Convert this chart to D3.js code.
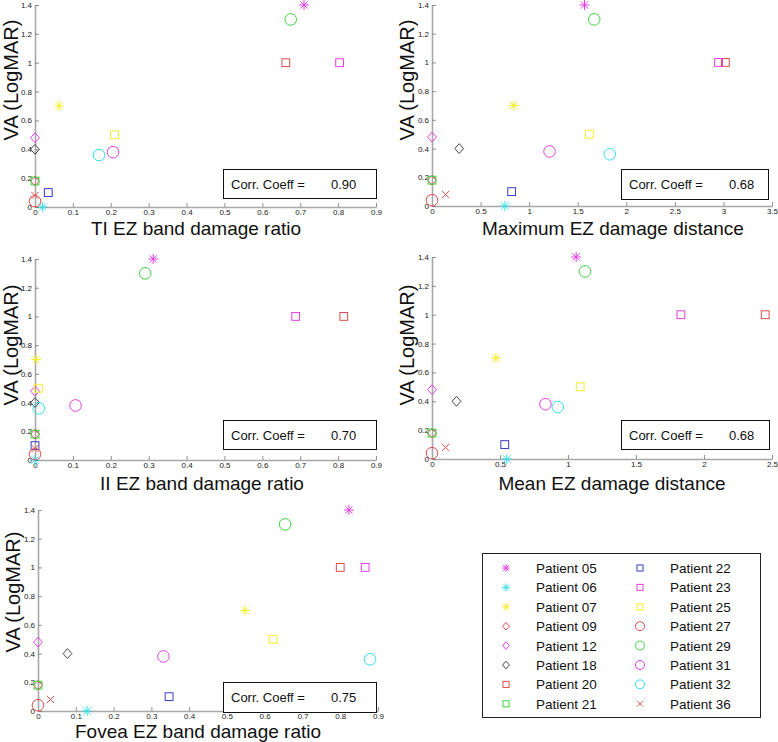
<!DOCTYPE html>
<html>
<head>
<meta charset="utf-8">
<script src="https://cdn.jsdelivr.net/npm/d3@7/dist/d3.min.js"></script>
<style>
  html, body { margin: 0; padding: 0; background: #fff; }
  svg { display: block; font-family: "Liberation Sans", Arial, sans-serif; }
</style>
</head>
<body>
<svg id="chart" width="778" height="742"></svg>
<script>
// ---------------- DATA ----------------
const patients = ["Patient 05","Patient 06","Patient 07","Patient 09","Patient 12","Patient 18","Patient 20","Patient 21",
                  "Patient 22","Patient 23","Patient 25","Patient 27","Patient 29","Patient 31","Patient 32","Patient 36"];
const markerTypes = ["asterisk","asterisk","asterisk","diamond","diamond","diamond","square","square",
                     "square","square","square","circle","circle","circle","circle","x"];
const markerColors = ["#e63ee6","#35e0ee","#f2ee2a","#e04a4a","#e63ee6","#444444","#e04a4a","#3fd23f",
                      "#3a3ac8","#e63ee6","#f2ee2a","#e04a4a","#3fd23f","#e63ee6","#35e0ee","#e85050"];
const vaLogMAR = [1.4, 0.0, 0.7, 0.18, 0.48, 0.4, 1.0, 0.18, 0.1, 1.0, 0.5, 0.04, 1.3, 0.38, 0.36, 0.08];

const tiRatio    = [0.71, 0.02, 0.064, 0, 0, 0, 0.662, 0, 0.035, 0.804, 0.21, 0, 0.675, 0.206, 0.169, 0];
const maxDist    = [1.57, 0.75, 0.84, 0, 0, 0.28, 3.02, 0, 0.82, 2.95, 1.62, 0, 1.67, 1.21, 1.83, 0.14];
const iiRatio    = [0.312, 0, 0.003, 0, 0, 0, 0.815, 0, 0, 0.688, 0.009, 0, 0.291, 0.107, 0.01, 0];
const meanDist   = [1.06, 0.55, 0.47, 0, 0, 0.18, 2.45, 0, 0.535, 1.83, 1.09, 0, 1.125, 0.834, 0.925, 0.10];
const foveaRatio = [0.823, 0.13, 0.548, 0, 0, 0.078, 0.80, 0, 0.347, 0.866, 0.622, 0, 0.654, 0.332, 0.879, 0.033];

const xTitles = ["TI EZ band damage ratio","Maximum EZ damage distance","II EZ band damage ratio",
                 "Mean EZ damage distance","Fovea EZ band damage ratio"];
const corrValues = ["0.90","0.68","0.70","0.68","0.75"];
const yTitle = "VA (LogMAR)";
const corrLabel = "Corr. Coeff =";

const ratioTicks = [0,0.1,0.2,0.3,0.4,0.5,0.6,0.7,0.8,0.9];
const maxDistTicks = [0,0.5,1,1.5,2,2.5,3,3.5];
const meanDistTicks = [0,0.5,1,1.5,2,2.5];
const yTicks = [0,0.2,0.4,0.6,0.8,1,1.2,1.4];

// ---------------- LAYOUT ----------------
const panels = [
  { xs: tiRatio,    ticks: ratioTicks,    left: 35,  right: 376, top: 5,   bottom: 207,
    box: {x: 223, y: 169, w: 153, h: 29}, xlab: {x: 196, y: 235}, ylab: {x: 18,  y: 80} },
  { xs: maxDist,    ticks: maxDistTicks,  left: 432, right: 772, top: 5,   bottom: 206,
    box: {x: 621, y: 169, w: 147, h: 30}, xlab: {x: 613, y: 235}, ylab: {x: 414, y: 80} },
  { xs: iiRatio,    ticks: ratioTicks,    left: 35,  right: 376, top: 259, bottom: 460,
    box: {x: 223, y: 420, w: 153, h: 29}, xlab: {x: 202, y: 490}, ylab: {x: 18,  y: 345} },
  { xs: meanDist,   ticks: meanDistTicks, left: 432, right: 772, top: 257, bottom: 459,
    box: {x: 621, y: 420, w: 148, h: 29}, xlab: {x: 612, y: 490}, ylab: {x: 414, y: 345} },
  { xs: foveaRatio, ticks: ratioTicks,    left: 38,  right: 378, top: 510, bottom: 711,
    box: {x: 223, y: 682, w: 153, h: 30}, xlab: {x: 198, y: 738}, ylab: {x: 20,  y: 592} }
];

const svg = d3.select("#chart");
const fmt = d => String(+(+d).toFixed(2));

function drawMarker(g, type, cx, cy, color, s) {
  const sw = 1;
  if (type === "circle") {
    g.append("circle").attr("cx", cx).attr("cy", cy).attr("r", 5.8 * s)
      .attr("fill", "none").attr("stroke", color).attr("stroke-width", sw);
  } else if (type === "square") {
    const h = 3.9 * s;
    g.append("rect").attr("x", cx - h).attr("y", cy - h).attr("width", 2 * h).attr("height", 2 * h)
      .attr("fill", "none").attr("stroke", color).attr("stroke-width", sw);
  } else if (type === "diamond") {
    const h = 4.9 * s;
    g.append("path").attr("d", `M${cx},${cy - h}L${cx + h * 0.9},${cy}L${cx},${cy + h}L${cx - h * 0.9},${cy}Z`)
      .attr("fill", "none").attr("stroke", color).attr("stroke-width", sw);
  } else if (type === "asterisk") {
    const h = 5 * s, d = h * 0.72;
    g.append("path").attr("d",
      `M${cx - h},${cy}L${cx + h},${cy}M${cx},${cy - h}L${cx},${cy + h}` +
      `M${cx - d},${cy - d}L${cx + d},${cy + d}M${cx - d},${cy + d}L${cx + d},${cy - d}`)
      .attr("fill", "none").attr("stroke", color).attr("stroke-width", sw);
  } else if (type === "x") {
    const h = 3.6 * s;
    g.append("path").attr("d", `M${cx - h},${cy - h}L${cx + h},${cy + h}M${cx - h},${cy + h}L${cx + h},${cy - h}`)
      .attr("fill", "none").attr("stroke", color).attr("stroke-width", sw);
  }
}

panels.forEach((p, pi) => {
  const xMax = p.ticks[p.ticks.length - 1];
  const x = d3.scaleLinear().domain([0, xMax]).range([p.left, p.right]);
  const y = d3.scaleLinear().domain([0, 1.4]).range([p.bottom, p.top]);
  const g = svg.append("g");

  // axes
  const xAxis = d3.axisBottom(x).tickValues(p.ticks).tickFormat(fmt).tickSizeInner(-4).tickSizeOuter(0).tickPadding(2);
  const yAxis = d3.axisLeft(y).tickValues(yTicks).tickFormat(fmt).tickSizeInner(-4).tickSizeOuter(0).tickPadding(3);
  const gx = g.append("g").attr("transform", `translate(0,${p.bottom})`).call(xAxis);
  const gy = g.append("g").attr("transform", `translate(${p.left},0)`).call(yAxis);
  [gx, gy].forEach(a => {
    a.select(".domain").attr("stroke", "#a8a8a8").attr("stroke-width", 1.6);
    a.selectAll(".tick line").attr("stroke", "#777").attr("stroke-width", 0.8);
    a.selectAll(".tick text").attr("fill", "#222").style("font-size", "8px")
      .style("font-family", "'Liberation Sans', Arial, sans-serif");
  });

  // points
  const pts = g.append("g");
  p.xs.forEach((xv, i) => {
    drawMarker(pts, markerTypes[i], x(xv), y(vaLogMAR[i]), markerColors[i], 1);
  });

  // correlation box
  g.append("rect").attr("x", p.box.x + 0.5).attr("y", p.box.y + 0.5).attr("width", p.box.w).attr("height", p.box.h)
    .attr("fill", "#fff").attr("stroke", "#111").attr("stroke-width", 1);
  g.append("text").attr("x", p.box.x + 8).attr("y", p.box.y + p.box.h / 2 + 5)
    .style("font-size", "13px").attr("fill", "#111").text(corrLabel);
  g.append("text").attr("x", p.box.x + 108).attr("y", p.box.y + p.box.h / 2 + 5)
    .style("font-size", "13px").attr("fill", "#111").text(corrValues[pi]);

  // axis titles
  g.append("text").attr("x", p.xlab.x).attr("y", p.xlab.y).attr("text-anchor", "middle")
    .style("font-size", "19px").attr("fill", "#111").text(xTitles[pi]);
  g.append("text").attr("transform", `translate(${p.ylab.x},${p.ylab.y}) rotate(-90)`)
    .attr("text-anchor", "middle").style("font-size", "20px").attr("fill", "#111").text(yTitle);
});

// ---------------- LEGEND ----------------
const leg = { x: 482, y: 553, w: 278, h: 164, row0: 568, rowStep: 19.4,
              colMarker: [506, 640], colText: [536, 670] };
const lg = svg.append("g");
lg.append("rect").attr("x", leg.x + 0.5).attr("y", leg.y + 0.5).attr("width", leg.w).attr("height", leg.h)
  .attr("fill", "#fff").attr("stroke", "#222").attr("stroke-width", 1);
patients.forEach((name, i) => {
  const col = Math.floor(i / 8), row = i % 8;
  const cy = leg.row0 + row * leg.rowStep;
  drawMarker(lg, markerTypes[i], leg.colMarker[col], cy, markerColors[i], 0.78);
  lg.append("text").attr("x", leg.colText[col]).attr("y", cy + 5)
    .style("font-size", "13.5px").attr("fill", "#111").text(name);
});
</script>
</body>
</html>
